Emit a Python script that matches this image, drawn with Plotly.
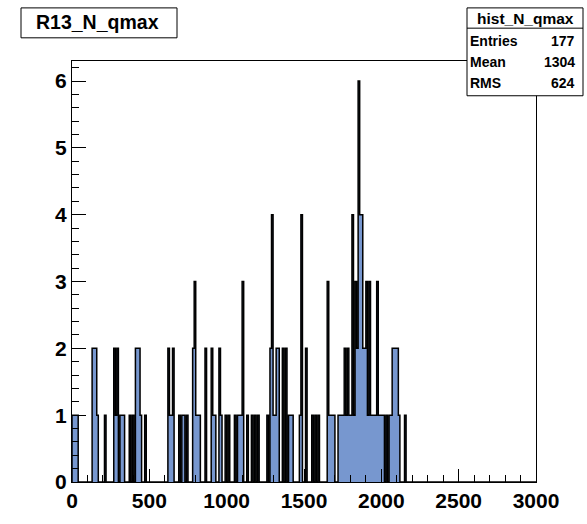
import math
import plotly.graph_objects as go

# Histogram hist_N_qmax: 300 bins of width 10 on [0, 3000]
bin_width = 10
x_min, x_max = 0, 3000

# Filled bins (lower edge -> entries); all other bins are empty
filled_edges = [
    0, 10, 20, 30,
    130, 140, 150, 160,
    210,
    270, 280, 290,
    310, 320, 330,
    370, 390,
    410, 420, 430, 440,
    470,
    620, 630, 640, 650,
    690, 710, 720, 740,
    780, 790, 800, 810, 820,
    860,
    900, 910, 920,
    950, 960,
    990, 1010, 1050,
    1070, 1080, 1090, 1100,
    1130, 1160, 1180,
    1200, 1260, 1280, 1290,
    1300, 1310, 1320, 1330, 1360, 1380,
    1400, 1410, 1420,
    1470, 1480, 1510,
    1550, 1570, 1590,
    1650, 1660, 1670, 1680, 1690,
    1720, 1730, 1740, 1750, 1760, 1770, 1780, 1790, 1800,
    1810, 1820,
    1830, 1840, 1850, 1860, 1870, 1880,
    1890, 1900, 1910, 1920,
    1930, 1940, 1950, 1960, 1970, 1980, 1990, 2000, 2010, 2030, 2050, 2060,
    2070, 2080, 2090, 2100, 2110, 2150,
]
filled_counts = [
    1, 1, 1, 1,
    2, 2, 2, 1,
    1,
    2, 1, 2,
    1, 1, 1,
    1, 1,
    2, 2, 2, 1,
    1,
    2, 1, 1, 2,
    1, 1, 1, 1,
    2, 3, 1, 1, 1,
    2,
    2, 1, 1,
    2, 1,
    1, 1, 1,
    1, 1, 1, 3,
    1, 1, 1,
    1, 1, 2, 4,
    1, 1, 2, 2, 2, 2,
    1, 1, 1,
    1, 4, 2,
    1, 1, 1,
    3, 1, 1, 1, 1,
    1, 1, 1, 1, 2, 1, 2, 1, 1,
    4, 1,
    3, 2, 6, 4, 4, 2,
    2, 3, 1, 3,
    1, 1, 1, 1, 3, 1, 1, 1, 1, 1, 1, 1,
    2, 2, 2, 2, 1, 1,
]

hist_title = "R13_N_qmax"
stats_name = "hist_N_qmax"
y_ticks = [0, 1, 2, 3, 4, 5, 6]
x_ticks = [0, 500, 1000, 1500, 2000, 2500, 3000]

# Full bin contents
n_bins = (x_max - x_min) // bin_width
counts = [0] * n_bins
for e, c in zip(filled_edges, filled_counts):
    counts[(e - x_min) // bin_width] = c
edges = [x_min + i * bin_width for i in range(n_bins + 1)]

# Statistics from bin centres
entries = sum(counts)
centres = [e + bin_width / 2 for e in edges[:-1]]
mean = sum(c * x for c, x in zip(counts, centres)) / entries
rms = math.sqrt(sum(c * (x - mean) ** 2 for c, x in zip(counts, centres)) / entries)

# Step outline: up at each lower edge, across the bin top
step_x = [edges[0]] + edges[1:] + [edges[-1]]
step_y = [0] + counts + [0]

y_max = max(counts) * 1.05

W, H = 587, 524
L, R, T, B = 72, 536, 61, 497


def px(x):
    return (x - L) / (R - L)


def py(y):
    return (B - y) / (B - T)


FONT = "Liberation Sans, Arial, Helvetica, sans-serif"

fig = go.Figure()
fig.add_trace(go.Scatter(
    x=step_x, y=step_y, mode="lines", line_shape="vh",
    line=dict(color="black", width=1.5),
    fill="tozeroy", fillcolor="#7797cf",
    hoverinfo="skip", showlegend=False,
))

axis_common = dict(
    showline=True, linecolor="black", linewidth=1, mirror=True,
    ticks="inside", tickcolor="black", tickwidth=1,
    showgrid=False, zeroline=False,
    tickfont=dict(family=FONT, size=21, color="black", weight="bold"),
)
fig.update_xaxes(
    range=[x_min, x_max], tickvals=x_ticks, ticklen=13,
    minor=dict(ticks="inside", ticklen=7, dtick=100, tickcolor="black", tickwidth=1, showgrid=False),
    **axis_common,
)
fig.update_yaxes(
    range=[0, y_max], tickvals=y_ticks, ticklen=14,
    minor=dict(ticks="inside", ticklen=7, dtick=0.2, tickcolor="black", tickwidth=1, showgrid=False),
    **axis_common,
)

shapes = []
annotations = []

# Title box
shapes.append(dict(type="rect", xref="paper", yref="paper",
                   x0=px(21), x1=px(177), y0=py(37), y1=py(6),
                   line=dict(color="black", width=1), fillcolor="white", layer="above"))
annotations.append(dict(xref="paper", yref="paper", x=px(97), y=py(21),
                        text=hist_title, showarrow=False, xanchor="center", yanchor="middle",
                        font=dict(family=FONT, size=19.5, color="black", weight="bold")))

# Statistics box
sb_l, sb_r, sb_t, sb_b, sb_div = 467, 583, 6, 97, 27
shapes.append(dict(type="rect", xref="paper", yref="paper",
                   x0=px(sb_l), x1=px(sb_r), y0=py(sb_b), y1=py(sb_t),
                   line=dict(color="black", width=1), fillcolor="white", layer="above"))
shapes.append(dict(type="line", xref="paper", yref="paper",
                   x0=px(sb_l), x1=px(sb_r), y0=py(sb_div), y1=py(sb_div),
                   line=dict(color="black", width=1), layer="above"))
annotations.append(dict(xref="paper", yref="paper", x=px((sb_l + sb_r) / 2), y=py(16.5),
                        text=stats_name, showarrow=False, xanchor="center", yanchor="middle",
                        font=dict(family=FONT, size=15.5, color="black", weight="bold")))
rows = [("Entries", f"{entries}"), ("Mean", f"{mean:.0f}"), ("RMS", f"{rms:.0f}")]
for (name, val), yy in zip(rows, [40, 62, 84]):
    annotations.append(dict(xref="paper", yref="paper", x=px(sb_l + 1), y=py(yy),
                            text=name, showarrow=False, xanchor="left", yanchor="middle",
                            font=dict(family=FONT, size=14, color="black", weight="bold")))
    annotations.append(dict(xref="paper", yref="paper", x=px(sb_r - 6), y=py(yy),
                            text=val, showarrow=False, xanchor="right", yanchor="middle",
                            font=dict(family=FONT, size=14, color="black", weight="bold")))

fig.update_layout(
    width=W, height=H,
    margin=dict(l=L, r=W - R, t=T, b=H - B),
    paper_bgcolor="white", plot_bgcolor="white",
    shapes=shapes, annotations=annotations,
    showlegend=False,
)

fig.write_html("out.html")
